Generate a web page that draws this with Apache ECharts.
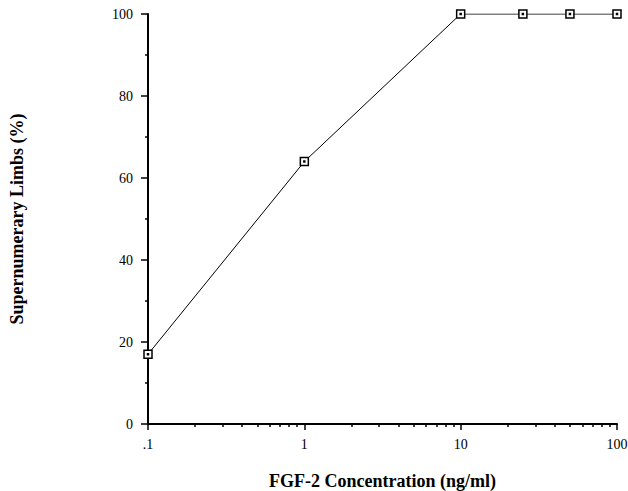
<!DOCTYPE html>
<html>
<head>
<meta charset="utf-8">
<script src="https://cdn.jsdelivr.net/npm/echarts@6/dist/echarts.min.js"></script>
<style>
  html, body { margin: 0; padding: 0; background: #fff; }
  #chart { width: 628px; height: 491px; }
</style>
</head>
<body>
<div id="chart"></div>
<script>
var concentrations = [0.1, 1, 10, 25, 50, 100];
var limbPercent = [17, 64, 100, 100, 100, 100];
var xTickLabels = { 0.1: '.1', 1: '1', 10: '10', 100: '100' };
var xMinorTicks = [0.2, 0.3, 0.4, 0.5, 0.6, 0.7, 0.8, 0.9,
  2, 3, 4, 5, 6, 7, 8, 9, 20, 30, 40, 50, 60, 70, 80, 90];

(function() {
  var ink = '#000';
  var font = '"Liberation Serif", "Times New Roman", serif';
  var chart = echarts.init(document.getElementById('chart'), null, { renderer: 'svg' });

  function labelText() {
    return { color: ink, fontFamily: font, fontSize: 14 };
  }
  function titleText() {
    return { color: ink, fontFamily: font, fontSize: 18, fontWeight: 'bold' };
  }

  chart.setOption({
    animation: false,
    grid: { left: 148, right: 11, top: 14, bottom: 67, outerBoundsMode: 'none' },
    xAxis: [{
      type: 'log',
      logBase: 10,
      min: 0.1,
      max: 100,
      name: 'FGF-2 Concentration (ng/ml)',
      nameLocation: 'middle',
      nameGap: 48,
      nameTextStyle: titleText(),
      axisLine: { lineStyle: { color: ink, width: 2 } },
      axisTick: { show: true, length: 6, lineStyle: { color: ink, width: 1.5 } },
      axisLabel: Object.assign(labelText(), {
        margin: 13,
        formatter: function(v) { return xTickLabels[v] || String(v); }
      }),
      splitLine: { show: false }
    }, {
      type: 'log',
      logBase: 10,
      min: 0.1,
      max: 100,
      position: 'bottom',
      axisLine: { show: false },
      axisTick: { show: true, length: 3, customValues: xMinorTicks, lineStyle: { color: ink, width: 1.5 } },
      axisLabel: { show: false },
      splitLine: { show: false }
    }],
    yAxis: {
      type: 'value',
      min: 0,
      max: 100,
      interval: 20,
      name: 'Supernumerary Limbs (%)',
      nameLocation: 'middle',
      nameGap: 122,
      nameTextStyle: titleText(),
      axisLine: { show: true, lineStyle: { color: ink, width: 2 } },
      axisTick: { show: true, length: 7, lineStyle: { color: ink, width: 1.5 } },
      minorTick: { show: true, splitNumber: 2, length: 3, lineStyle: { color: ink, width: 1.5 } },
      axisLabel: Object.assign(labelText(), { margin: 15 }),
      splitLine: { show: false }
    },
    series: [{
      type: 'line',
      xAxisIndex: 0,
      data: concentrations.map(function(c, i) { return [c, limbPercent[i]]; }),
      symbol: 'path://M0,0H8V8H0Z M3.5,3.5H4.5V4.5H3.5Z',
      symbolSize: 8,
      itemStyle: { color: '#fff', borderColor: ink, borderWidth: 1.5 },
      lineStyle: { color: ink, width: 1 }
    }]
  });
})();
</script>
</body>
</html>
